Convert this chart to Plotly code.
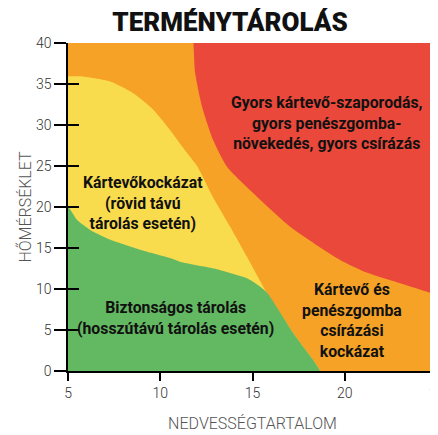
import plotly.graph_objects as go

# ---- data ----
title_text = "TERMÉNYTÁROLÁS"
x_title = "NEDVESSÉGTARTALOM"
y_title = "HŐMÉRSÉKLET"
x_ticks = [5, 10, 15, 20, 25]
y_ticks = [0, 5, 10, 15, 20, 25, 30, 35, 40]

# red zone boundary (moisture, temperature)
red_x = [11.75, 11.8, 11.89, 12.27, 12.86, 13.62, 15.03, 17.04, 19.75, 21.2, 23.0, 25.0, 26.0, 26.0]
red_y = [41.0, 40.0, 36.4, 32.2, 28.2, 24.9, 21.7, 17.6, 13.55, 12.0, 10.7, 9.3, 8.8, 41.0]

# yellow zone boundary
yellow_x = [4.0, 5.0, 5.65, 7.28, 8.52, 9.61, 10.53, 11.45, 12.0, 12.86, 13.79, 14.71, 15.79, 17.2, 18.29, 18.67, 18.9, 4.0]
yellow_y = [35.93, 35.93, 35.93, 35.3, 33.9, 31.9, 29.4, 26.6, 25.0, 21.2, 17.6, 13.9, 9.5, 4.64, 1.34, 0.0, -1.0, -1.0]

# green zone boundary
green_x = [4.0, 5.0, 5.5, 6.2, 7.3, 8.9, 10.5, 11.1, 12.9, 14.7, 15.4, 15.8, 17.2, 18.29, 18.67, 18.9, 4.0]
green_y = [21.0, 20.0, 18.4, 17.2, 16.0, 14.8, 13.8, 13.3, 12.5, 11.3, 10.3, 9.5, 4.64, 1.34, 0.0, -1.0, -1.0]

zone_labels = [
    "Gyors kártevő-szaporodás,<br>gyors penészgomba-<br>növekedés, gyors csírázás",
    "Kártevőkockázat<br>(rövid távú<br>tárolás esetén)",
    "Biztonságos tárolás<br>(hosszútávú tárolás esetén)",
    "Kártevő és<br>penészgomba<br>csírázási<br>kockázat",
]
label_x = [19.0, 9.04, 10.8, 20.4]
label_y = [30.3, 20.5, 6.5, 6.2]

ORANGE = "#F5A226"
RED = "#E9483A"
YELLOW = "#F9DB4E"
GREEN = "#63B862"

fig = go.Figure()
for xs, ys, col in [(yellow_x, yellow_y, YELLOW), (green_x, green_y, GREEN), (red_x, red_y, RED)]:
    fig.add_trace(go.Scatter(
        x=xs, y=ys, mode="lines", fill="toself", fillcolor=col,
        line=dict(width=0, color=col, shape="spline", smoothing=0.6),
        hoverinfo="skip", showlegend=False,
    ))

# invisible trace to anchor the overlay axis for the inner tick halves
fig.add_trace(go.Scatter(x=[None], y=[None], yaxis="y2", showlegend=False, hoverinfo="skip"))

for t, lx, ly in zip(zone_labels, label_x, label_y):
    fig.add_annotation(
        x=lx, y=ly, text=t, showarrow=False, align="center",
        font=dict(family="Roboto", size=15.8, color="#111111", weight="bold"),
    )

tick_font = dict(family="Roboto", size=14, color="#333333", weight=300)
title_font = dict(family="Roboto", size=16, color="#555555", weight=300)

# the page body adds an 8px offset, so the figure is 8px smaller than the window
fig.update_layout(
    width=430, height=427,
    margin=dict(l=60, r=1, t=35, b=64),
    paper_bgcolor="white",
    plot_bgcolor=ORANGE,
    title=dict(
        text=title_text, x=222 / 430, xref="container", xanchor="center",
        y=1 - 14 / 427, yref="container", yanchor="middle",
        font=dict(family="Roboto", size=26, color="#111111", weight=900),
    ),
    xaxis=dict(
        range=[5, 25], tickvals=x_ticks, ticktext=[str(v) for v in x_ticks],
        showgrid=False, zeroline=False, showline=True, linecolor="black", linewidth=1.5,
        ticks="outside", ticklen=8, tickwidth=1.5, tickcolor="black",
        tickfont=tick_font, automargin=False, ticklabeloverflow="allow",
        title=dict(text=x_title, font=title_font, standoff=18),
    ),
    yaxis=dict(
        range=[0, 40], tickvals=y_ticks, ticktext=[str(v) for v in y_ticks],
        showgrid=False, zeroline=False, showline=True, linecolor="black", linewidth=1.5,
        ticks="outside", ticklen=12, tickwidth=1.5, tickcolor="black",
        tickfont=tick_font, automargin=False,
        title=dict(text=y_title, font=title_font, standoff=0),
    ),
    yaxis2=dict(
        range=[0, 40], overlaying="y", side="left", tickvals=y_ticks,
        showgrid=False, zeroline=False, showline=False, showticklabels=False,
        ticks="inside", ticklen=11, tickwidth=1.5, tickcolor="black", automargin=False,
    ),
)

fig.write_html("out.html")
